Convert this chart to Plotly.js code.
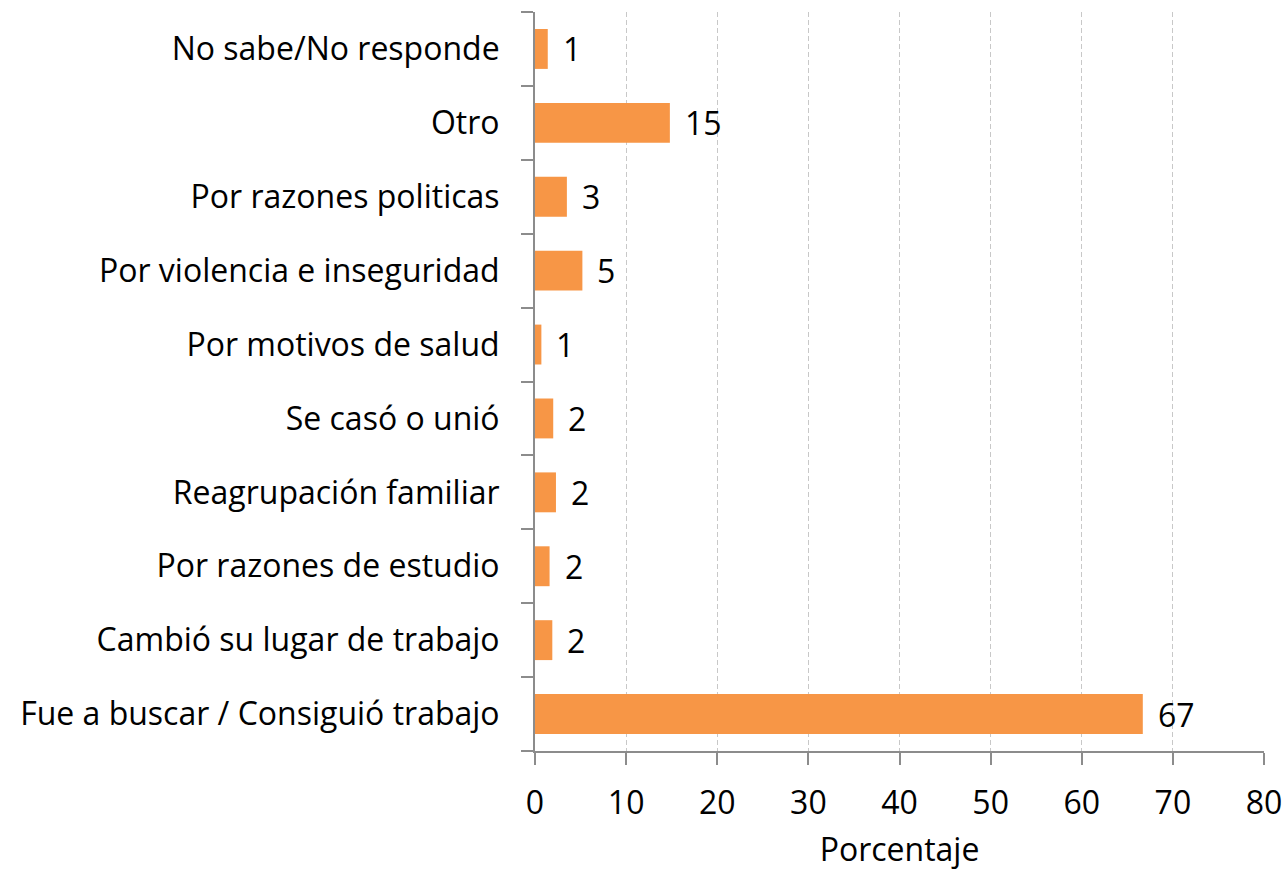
<!DOCTYPE html>
<html><head><meta charset="utf-8">
<script src="https://cdn.plot.ly/plotly-3.0.1.min.js"></script>
<style>body{margin:0;background:#fff}#c{width:1286px;height:870px}</style>
</head><body><div id="c"></div>
<script>
const categories = [
  "Fue a buscar / Consiguió trabajo",
  "Cambió su lugar de trabajo",
  "Por razones de estudio",
  "Reagrupación familiar",
  "Se casó o unió",
  "Por motivos de salud",
  "Por violencia e inseguridad",
  "Por razones politicas",
  "Otro",
  "No sabe/No responde"
];
const values = [66.7, 1.9, 1.6, 2.3, 2.0, 0.7, 5.2, 3.5, 14.8, 1.4];
const labels = ["67", "2", "2", "2", "2", "1", "5", "3", "15", "1"];
const xTicks = [0, 10, 20, 30, 40, 50, 60, 70, 80];

const FONT = "'Open Sans', Lato, sans-serif";
const FS = 32;

const trace = {
  type: "bar",
  orientation: "h",
  y: categories,
  x: values,
  marker: {color: "#F79646"},
  hoverinfo: "none"
};

const annotations = categories.map((c, i) => ({
  x: values[i], y: c, xref: "x", yref: "y",
  text: labels[i], showarrow: false,
  xanchor: "left", yanchor: "middle", xshift: 13,
  font: {family: FONT, size: FS, color: "#000"}
}));

const layout = {
  width: 1286, height: 870,
  margin: {l: 535, r: 22, t: 12, b: 119, pad: 0},
  paper_bgcolor: "#fff", plot_bgcolor: "#fff",
  showlegend: false,
  bargap: 0.46,
  font: {family: FONT, size: FS, color: "#000"},
  xaxis: {
    range: [0, 80],
    tickvals: xTicks,
    ticktext: xTicks.map(String),
    showgrid: true, gridcolor: "#c8c8c8", griddash: "5px,3px", gridwidth: 1,
    zeroline: false,
    showline: true, linecolor: "#8c8c8c", linewidth: 2,
    ticks: "outside", ticklen: 12, tickwidth: 2, tickcolor: "#8c8c8c",
    tickfont: {family: FONT, size: FS, color: "#000"},
    ticklabelstandoff: 11,
    title: {text: "Porcentaje", font: {family: FONT, size: FS, color: "#000"}, standoff: 20},
    fixedrange: true
  },
  yaxis: {
    type: "category",
    categoryorder: "array", categoryarray: categories,
    tickson: "boundaries",
    showgrid: false, zeroline: false,
    showline: true, linecolor: "#8c8c8c", linewidth: 2,
    ticks: "outside", ticklen: 12, tickwidth: 2, tickcolor: "#8c8c8c",
    tickfont: {family: FONT, size: FS, color: "#000"},
    ticklabelstandoff: 27,
    fixedrange: true
  },
  annotations: annotations
};

Plotly.newPlot("c", [trace], layout, {displayModeBar: false, staticPlot: true});
</script>
</body></html>
